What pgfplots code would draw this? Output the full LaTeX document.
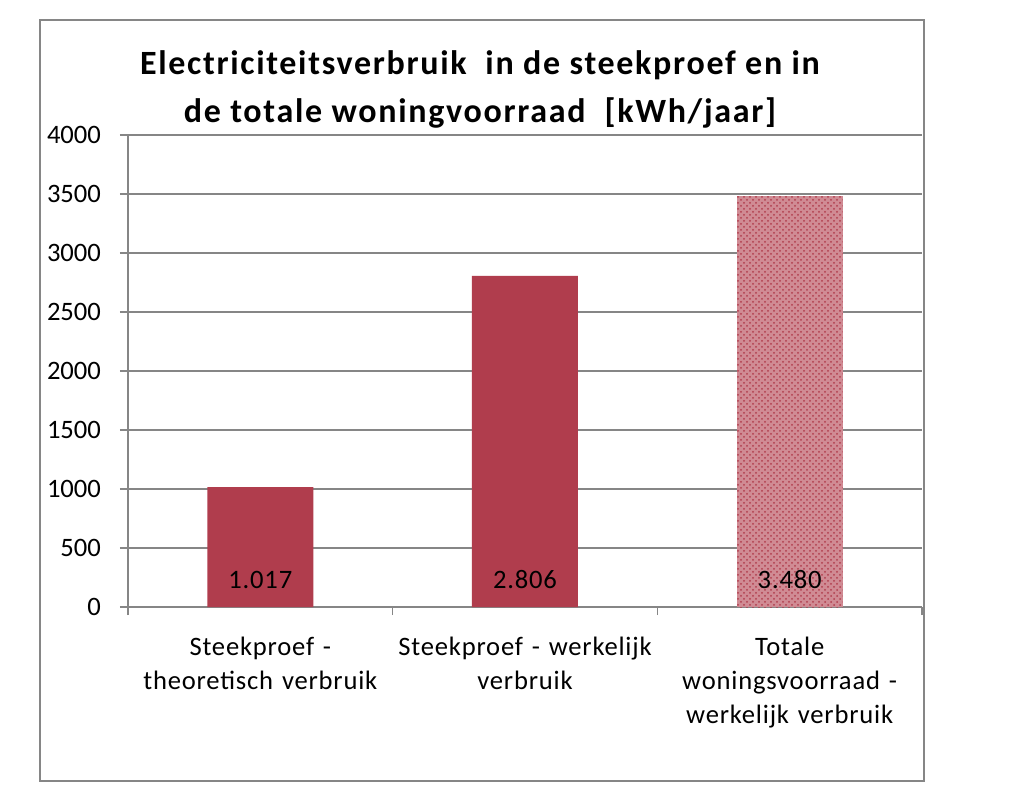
\documentclass[border=0pt]{standalone}
\usepackage{fontspec}
\setmainfont{Carlito}
\usepackage{pgfplots}
\pgfplotsset{compat=1.18}
\usetikzlibrary{patterns}
\definecolor{barc}{RGB}{176,61,77}
\definecolor{gridc}{RGB}{134,134,134}
\begin{document}
\begin{tikzpicture}
\path[use as bounding box] (0,0) rectangle (512pt,-401.5pt);
\fill[white] (0,0) rectangle (512pt,-401.5pt);
\draw[gridc, line width=0.75pt] (20pt,-10pt) rectangle (462pt,-390.5pt);
\node[font=\bfseries\fontsize{17}{24}\selectfont\addfontfeatures{LetterSpace=5}, align=center] at (240pt,-44.5pt)
 {Electriciteitsverbruik\ \ in de steekproef en in\\de totale woningvoorraad\ \ [kWh/jaar]};
\begin{axis}[
 at={(64pt,-303.5pt)}, anchor=south west,
 width=397pt, height=236pt, scale only axis,
 xmin=0.5, xmax=3.5, ymin=0, ymax=4000,
 ytick={0,500,...,4000},
 ymajorgrids, grid style={gridc, line width=0.75pt},
 axis x line*=bottom, axis y line*=left,
 axis line style={gridc, line width=0.75pt, -},
 tick style={gridc, line width=0.75pt},
 tick align=outside, major tick length=4pt,
 xtick={0.5,1.5,2.5,3.5}, xticklabels={},
 extra x ticks={1,2,3},
 extra x tick labels={Steekproef -\\theoretisch verbruik, Steekproef - werkelijk\\verbruik, Totale\\woningsvoorraad -\\werkelijk verbruik},
 extra x tick style={major tick length=0pt, grid=none},
 xticklabel style={align=center, text width=150pt, font=\fontsize{13.3}{17}\selectfont\addfontfeatures{LetterSpace=3}, yshift=-11.5pt},
 yticklabel style={font=\fontsize{13.3}{15}\selectfont, xshift=-6pt},
 /pgf/number format/assume math mode=true,
 /pgf/number format/set thousands separator={},
 clip=false,
]
\addplot[ybar, bar shift=0pt, bar width=53pt, fill=barc, draw=none] coordinates {(1,1017) (2,2806)};
\addplot[ybar, bar shift=0pt, bar width=53pt, draw=none, fill=barc!60] coordinates {(3,3480)};
\addplot[ybar, bar shift=0pt, bar width=53pt, draw=none, pattern=crosshatch dots, pattern color=barc] coordinates {(3,3480)};
\node[font=\fontsize{13.3}{15}\selectfont\addfontfeatures{LetterSpace=3}] at (axis cs:1,230) {1.017};
\node[font=\fontsize{13.3}{15}\selectfont\addfontfeatures{LetterSpace=3}] at (axis cs:2,230) {2.806};
\node[font=\fontsize{13.3}{15}\selectfont\addfontfeatures{LetterSpace=3}] at (axis cs:3,230) {3.480};
\end{axis}
\end{tikzpicture}
\end{document}
